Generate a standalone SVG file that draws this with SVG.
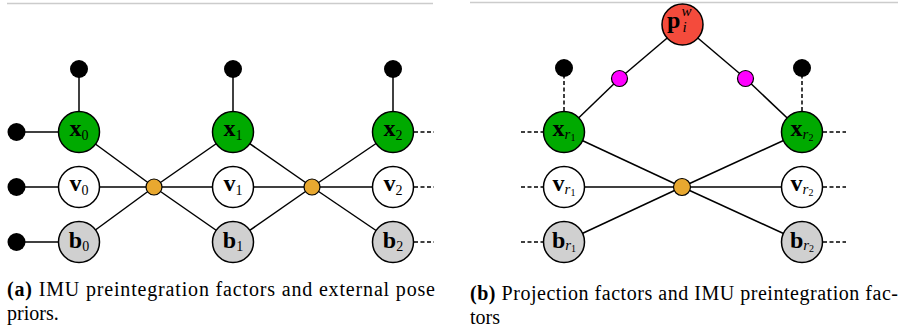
<svg xmlns="http://www.w3.org/2000/svg" width="900" height="332" viewBox="0 0 900 332">
<style>
.e{stroke:#000;stroke-width:1.5;fill:none}
.d{stroke:#000;stroke-width:1.5;fill:none;stroke-dasharray:4 2.5}
.n{stroke:#000;stroke-width:1.5}
.g{fill:#00aa00}.w{fill:#fff}.gr{fill:#d0d0d0}.r{fill:#f44b3c}
.f{fill:#e8a830;stroke:#000;stroke-width:1.2}
.m{fill:#ff00ff;stroke:#000;stroke-width:1.2}
.p{fill:#000}
.lb{font-family:"Liberation Serif","Times New Roman",serif;font-weight:bold;font-size:24px;fill:#000}
.sb{font-weight:normal;font-size:14px}
.si{font-weight:normal;font-style:italic;font-size:15px}
.ss{font-weight:normal;font-size:10px}
.cap{font-family:"Liberation Serif","Times New Roman",serif;font-size:20px;fill:#000}
</style>
<line x1="7" y1="3.5" x2="433" y2="3.5" stroke="#cccccc" stroke-width="1.5"/>
<line x1="470" y1="2.5" x2="898" y2="2.5" stroke="#cccccc" stroke-width="1.5"/>
<g id="connectors">
<line class="e" x1="79" y1="69" x2="79" y2="132"/>
<line class="e" x1="233" y1="69" x2="233" y2="132"/>
<line class="e" x1="393" y1="69" x2="393" y2="132"/>
<line class="e" x1="16" y1="132" x2="79" y2="132"/>
<line class="e" x1="16" y1="187" x2="79" y2="187"/>
<line class="e" x1="16" y1="242" x2="79" y2="242"/>
<line class="e" x1="79" y1="132" x2="154" y2="187"/>
<line class="e" x1="79" y1="187" x2="154" y2="187"/>
<line class="e" x1="79" y1="242" x2="154" y2="187"/>
<line class="e" x1="233" y1="132" x2="154" y2="187"/>
<line class="e" x1="233" y1="187" x2="154" y2="187"/>
<line class="e" x1="233" y1="242" x2="154" y2="187"/>
<line class="e" x1="233" y1="132" x2="312" y2="187"/>
<line class="e" x1="233" y1="187" x2="312" y2="187"/>
<line class="e" x1="233" y1="242" x2="312" y2="187"/>
<line class="e" x1="393" y1="132" x2="312" y2="187"/>
<line class="e" x1="393" y1="187" x2="312" y2="187"/>
<line class="e" x1="393" y1="242" x2="312" y2="187"/>
<line class="d" x1="414" y1="132" x2="434" y2="132"/>
<line class="d" x1="414" y1="187" x2="434" y2="187"/>
<line class="d" x1="414" y1="242" x2="434" y2="242"/>
<line class="d" x1="564" y1="68" x2="564" y2="112"/>
<line class="d" x1="802" y1="68" x2="802" y2="112"/>
<line class="e" x1="682.5" y1="25" x2="619.5" y2="78.5"/>
<line class="e" x1="619.5" y1="78.5" x2="564" y2="132"/>
<line class="e" x1="682.5" y1="25" x2="745.5" y2="78.5"/>
<line class="e" x1="745.5" y1="78.5" x2="802" y2="132"/>
<line class="e" x1="564" y1="132" x2="682" y2="187"/>
<line class="e" x1="564" y1="187" x2="682" y2="187"/>
<line class="e" x1="564" y1="242" x2="682" y2="187"/>
<line class="e" x1="802" y1="132" x2="682" y2="187"/>
<line class="e" x1="802" y1="187" x2="682" y2="187"/>
<line class="e" x1="802" y1="242" x2="682" y2="187"/>
<line class="d" x1="521" y1="132" x2="543" y2="132"/>
<line class="d" x1="521" y1="187" x2="543" y2="187"/>
<line class="d" x1="521" y1="242" x2="543" y2="242"/>
<line class="d" x1="823" y1="132" x2="846" y2="132"/>
<line class="d" x1="823" y1="187" x2="846" y2="187"/>
<line class="d" x1="823" y1="242" x2="846" y2="242"/>
</g>
<g id="priors">
<circle class="p" cx="79" cy="69" r="9"/>
<circle class="p" cx="233" cy="69" r="9"/>
<circle class="p" cx="393" cy="69" r="9"/>
<circle class="p" cx="16.5" cy="132" r="9"/>
<circle class="p" cx="16.5" cy="187" r="9"/>
<circle class="p" cx="16.5" cy="242" r="9"/>
<circle class="p" cx="564" cy="68" r="9"/>
<circle class="p" cx="802" cy="68" r="9"/>
</g>
<g id="factors">
<circle class="f" cx="154" cy="187" r="8"/>
<circle class="f" cx="312" cy="187" r="8"/>
<circle class="f" cx="682" cy="187" r="8.5"/>
<circle class="m" cx="619.5" cy="78.5" r="8"/>
<circle class="m" cx="745.5" cy="78.5" r="8"/>
</g>
<g id="x0"><circle class="n g" cx="79" cy="132" r="20.5"/><text class="lb" x="79" y="136" text-anchor="middle">x<tspan class="sb" dy="4">0</tspan></text></g>
<g id="v0"><circle class="n w" cx="79" cy="187" r="20.5"/><text class="lb" x="79" y="191" text-anchor="middle">v<tspan class="sb" dy="4">0</tspan></text></g>
<g id="b0"><circle class="n gr" cx="79" cy="242" r="20.5"/><text class="lb" x="79" y="248" text-anchor="middle">b<tspan class="sb" dy="3">0</tspan></text></g>
<g id="x1"><circle class="n g" cx="233" cy="132" r="20.5"/><text class="lb" x="233" y="136" text-anchor="middle">x<tspan class="sb" dy="4">1</tspan></text></g>
<g id="v1"><circle class="n w" cx="233" cy="187" r="20.5"/><text class="lb" x="233" y="191" text-anchor="middle">v<tspan class="sb" dy="4">1</tspan></text></g>
<g id="b1"><circle class="n gr" cx="233" cy="242" r="20.5"/><text class="lb" x="233" y="248" text-anchor="middle">b<tspan class="sb" dy="3">1</tspan></text></g>
<g id="x2"><circle class="n g" cx="393" cy="132" r="20.5"/><text class="lb" x="393" y="136" text-anchor="middle">x<tspan class="sb" dy="4">2</tspan></text></g>
<g id="v2"><circle class="n w" cx="393" cy="187" r="20.5"/><text class="lb" x="393" y="191" text-anchor="middle">v<tspan class="sb" dy="4">2</tspan></text></g>
<g id="b2"><circle class="n gr" cx="393" cy="242" r="20.5"/><text class="lb" x="393" y="248" text-anchor="middle">b<tspan class="sb" dy="3">2</tspan></text></g>
<g id="p"><circle class="n r" cx="682.5" cy="24.5" r="20.5"/><text class="lb" x="667" y="28">p</text><text class="lb si" x="681.5" y="16">w</text><text class="lb si" x="682.5" y="32">i</text></g>
<g id="xr1"><circle class="n g" cx="564" cy="132" r="20.5"/><text class="lb" x="564" y="136" text-anchor="middle">x<tspan class="si" dy="3">r</tspan><tspan class="ss" dy="2">1</tspan></text></g>
<g id="vr1"><circle class="n w" cx="564" cy="187" r="20.5"/><text class="lb" x="564" y="191" text-anchor="middle">v<tspan class="si" dy="3">r</tspan><tspan class="ss" dy="2">1</tspan></text></g>
<g id="br1"><circle class="n gr" cx="564" cy="242" r="20.5"/><text class="lb" x="564" y="248" text-anchor="middle">b<tspan class="si" dy="2">r</tspan><tspan class="ss" dy="2">1</tspan></text></g>
<g id="xr2"><circle class="n g" cx="802" cy="132" r="20.5"/><text class="lb" x="802" y="136" text-anchor="middle">x<tspan class="si" dy="3">r</tspan><tspan class="ss" dy="2">2</tspan></text></g>
<g id="vr2"><circle class="n w" cx="802" cy="187" r="20.5"/><text class="lb" x="802" y="191" text-anchor="middle">v<tspan class="si" dy="3">r</tspan><tspan class="ss" dy="2">2</tspan></text></g>
<g id="br2"><circle class="n gr" cx="802" cy="242" r="20.5"/><text class="lb" x="802" y="248" text-anchor="middle">b<tspan class="si" dy="2">r</tspan><tspan class="ss" dy="2">2</tspan></text></g>
<g id="captions">
<text class="cap" x="7" y="296" textLength="428" lengthAdjust="spacing"><tspan font-weight="bold">(a)</tspan> IMU preintegration factors and external pose</text>
<text class="cap" x="7" y="320">priors.</text>
<text class="cap" x="470" y="300" textLength="428" lengthAdjust="spacing"><tspan font-weight="bold">(b)</tspan> Projection factors and IMU preintegration fac-</text>
<text class="cap" x="470" y="324">tors</text>
</g>
</svg>
